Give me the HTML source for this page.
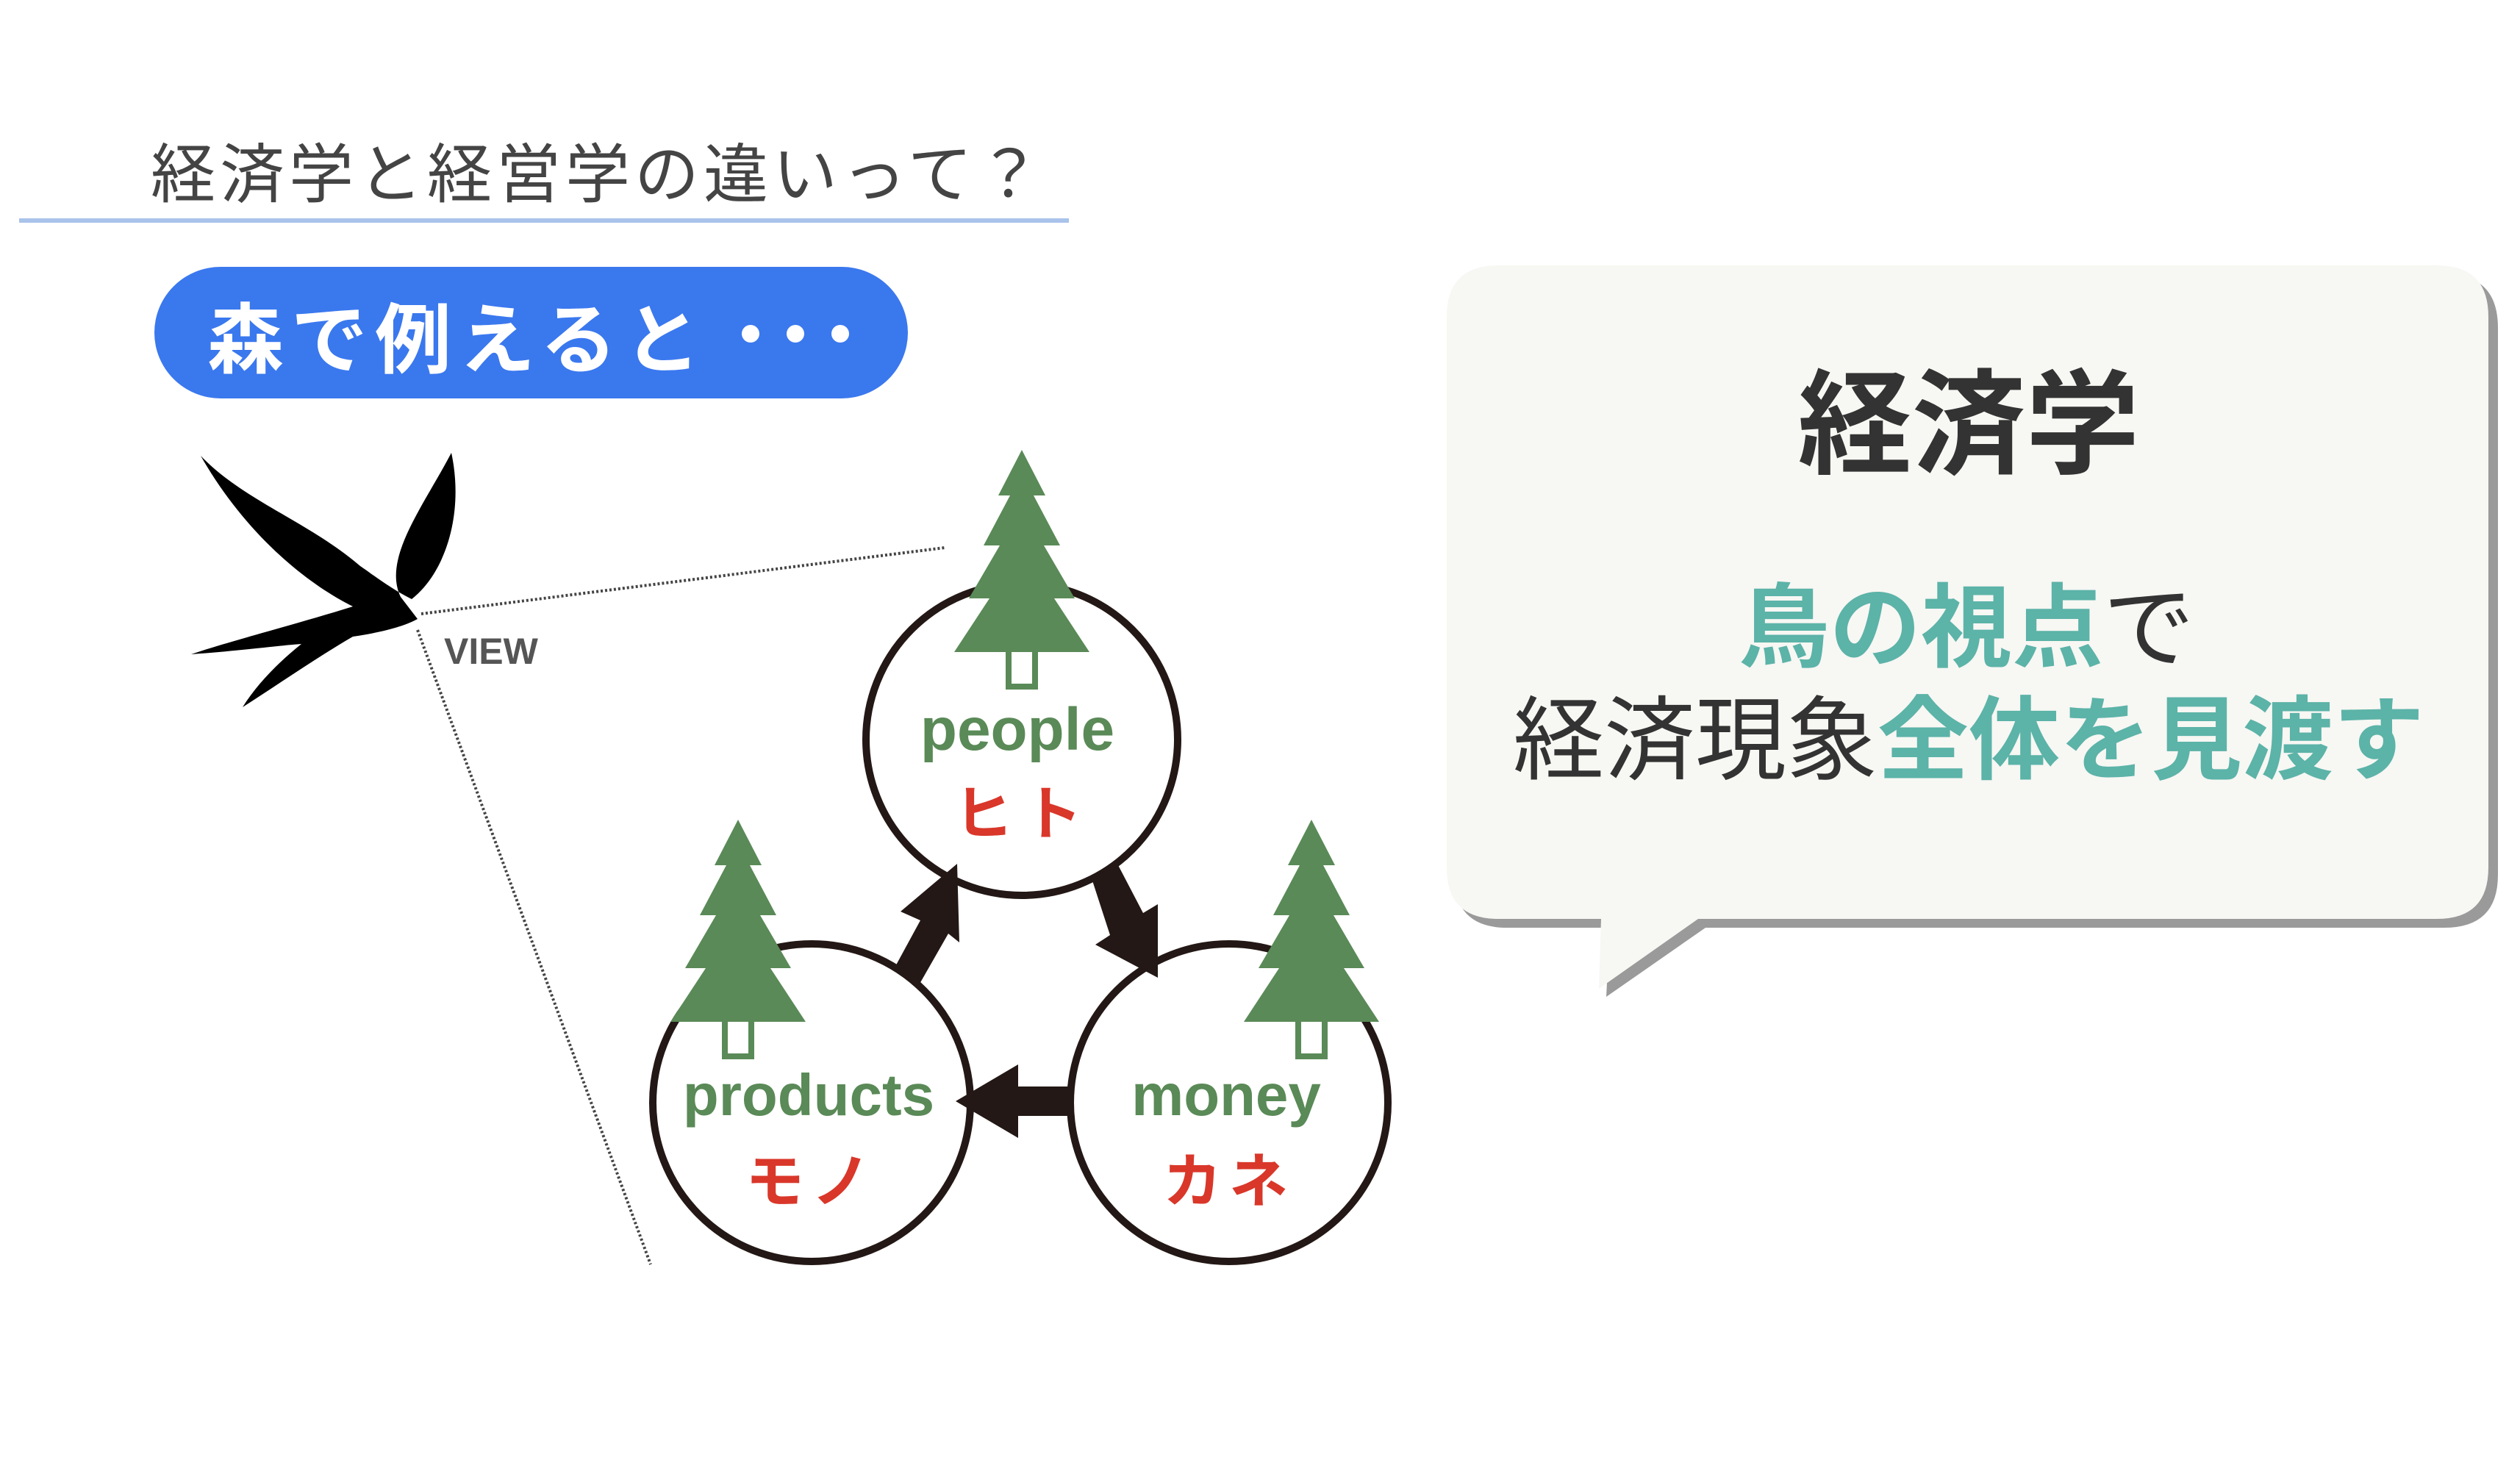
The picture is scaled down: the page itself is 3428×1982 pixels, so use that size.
<!DOCTYPE html>
<html><head><meta charset="utf-8"><style>
html,body{margin:0;padding:0;background:#fff}
svg{display:block}
text{font-family:"Liberation Sans","Noto Sans CJK JP",sans-serif}
</style></head><body>
<svg width="3428" height="1982" viewBox="0 0 3428 1982" xmlns="http://www.w3.org/2000/svg">
<defs>
<g id="tree">
<polygon points="0,0 -32,62 -16,62 -52,130 -30,130 -72,202 -44,202 -92,275 92,275 44,202 72,202 30,130 52,130 16,62 32,62" fill="#5a8a57"/>
<path d="M-18,272 V322 H18 V272" fill="none" stroke="#5a8a57" stroke-width="8"/>
</g>
</defs>
<!-- title -->
<text x="205" y="268" font-size="88" fill="#444" letter-spacing="6">経済学と経営学の違いって？</text>
<rect x="26" y="297" width="1428" height="6" fill="#a9c3ea"/>
<!-- pill -->
<rect x="210" y="363" width="1025" height="179" rx="90" fill="#3a78ee"/>
<text x="282" y="499" font-size="104" font-weight="bold" fill="#fff" letter-spacing="10">森で例えると</text>
<circle cx="1021" cy="454" r="12" fill="#fff"/>
<circle cx="1082" cy="454" r="12" fill="#fff"/>
<circle cx="1143" cy="454" r="12" fill="#fff"/>
<!-- bird -->
<path d="M568,842 L545,812 C520,760 575,690 614,616 C632,700 605,780 560,815 C530,800 505,780 490,770 C420,710 330,680 273,620 C330,720 410,790 480,825 C400,850 320,870 260,890 C330,885 380,878 410,876 C380,900 350,930 330,962 C380,930 430,895 480,866 C520,860 550,852 568,842 Z" fill="#000"/>
<!-- dotted lines -->
<line x1="573" y1="835" x2="1285" y2="745" stroke="#444" stroke-width="4" stroke-dasharray="3,3"/>
<line x1="568" y1="857" x2="885" y2="1720" stroke="#444" stroke-width="4" stroke-dasharray="3,3"/>
<text x="604" y="903" font-size="50" font-weight="bold" fill="#555">VIEW</text>
<!-- circles -->
<circle cx="1390" cy="1006" r="212" fill="#fff" stroke="#231815" stroke-width="10"/>
<circle cx="1104" cy="1500" r="216" fill="#fff" stroke="#231815" stroke-width="10"/>
<circle cx="1672" cy="1500" r="216" fill="#fff" stroke="#231815" stroke-width="10"/>
<use href="#tree" x="1390" y="612"/>
<use href="#tree" x="1004" y="1115"/>
<use href="#tree" x="1784" y="1115"/>
<!-- arrows -->
<g fill="#231815">
<polygon points="1215,1320 1250,1340 1290,1270 1305,1282 1302,1175 1225,1240 1252,1252"/>
<polygon points="1485,1195 1520,1175 1555,1242 1575,1230 1575,1330 1490,1285 1510,1272"/>
<polygon points="1460,1478 1460,1518 1385,1518 1385,1548 1300,1498 1385,1448 1385,1478"/>
</g>
<text x="1384" y="1020" font-size="82" font-weight="bold" fill="#5a8a57" text-anchor="middle">people</text>
<text x="1392" y="1135" font-size="80" font-weight="bold" fill="#d9372a" text-anchor="middle" letter-spacing="14">ヒト</text>
<text x="1100" y="1517" font-size="80" font-weight="bold" fill="#5a8a57" text-anchor="middle">products</text>
<text x="1104" y="1635" font-size="80" font-weight="bold" fill="#d9372a" text-anchor="middle" letter-spacing="10">モノ</text>
<text x="1668" y="1517" font-size="80" font-weight="bold" fill="#5a8a57" text-anchor="middle">money</text>
<text x="1672" y="1635" font-size="80" font-weight="bold" fill="#d9372a" text-anchor="middle" letter-spacing="10">カネ</text>
<!-- bubble -->
<path d="M2050,373 H3325 Q3398,373 3398,446 V1190 Q3398,1262 3325,1262 H2320 L2185,1356 L2190,1262 H2050 Q1978,1262 1978,1190 V446 Q1978,373 2050,373 Z" fill="#9a9a9a"/>
<path d="M2038,361 H3315 Q3385,361 3385,431 V1180 Q3385,1250 3315,1250 H2310 L2175,1345 L2178,1250 H2038 Q1968,1250 1968,1180 V431 Q1968,361 2038,361 Z" fill="#f7f7f3"/>
<text x="2678" y="632" font-size="155" font-weight="bold" fill="#333" text-anchor="middle">経済学</text>
<text x="2675" y="897" font-size="124" text-anchor="middle"><tspan font-weight="bold" fill="#5cb3a8">鳥の視点</tspan><tspan fill="#333">で</tspan></text>
<text x="2678" y="1050" font-size="124" text-anchor="middle"><tspan fill="#333">経済現象</tspan><tspan font-weight="bold" fill="#5cb3a8">全体を見渡す</tspan></text>
</svg>
</body></html>
